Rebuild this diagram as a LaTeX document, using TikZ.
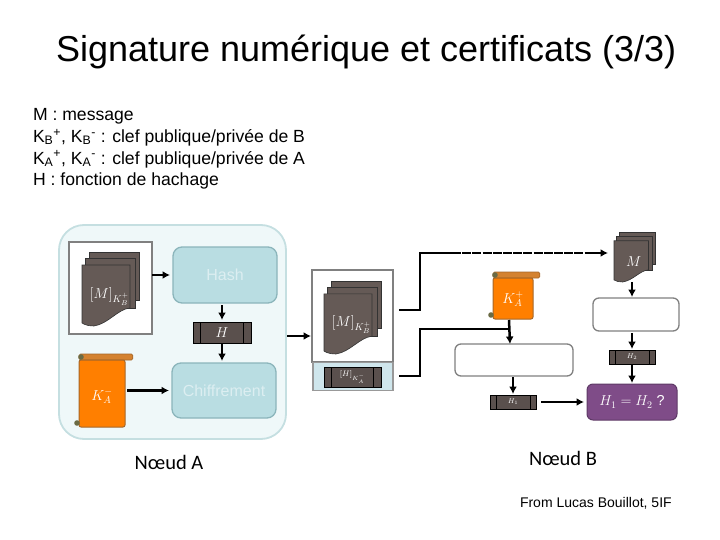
\documentclass[tikz,border=0pt]{standalone}
\usepackage{fontspec}
\setmainfont{Liberation Sans}
\newfontfamily\carl{Carlito}
\usetikzlibrary{arrows.meta,calc}
\definecolor{docfill}{HTML}{655A56}
\definecolor{barfill}{HTML}{5A504D}
\definecolor{panel}{HTML}{EFF8F9}
\definecolor{panelline}{HTML}{C5DFE1}
\definecolor{tealfill}{HTML}{B9DDE2}
\definecolor{tealline}{HTML}{8BB5BB}
\definecolor{graybox}{HTML}{808080}
\definecolor{orangefill}{HTML}{FF7F00}
\definecolor{orangeline}{HTML}{A5672A}
\definecolor{rollfill}{HTML}{D48230}
\definecolor{knob}{HTML}{6B6B45}
\definecolor{purplefill}{HTML}{7F4C88}
\definecolor{purpleline}{HTML}{5E3A66}
\definecolor{lightblue}{HTML}{CFE6EC}
\definecolor{pale}{HTML}{DCEEF1}
\tikzset{
  x=1pt,y=-1pt,
  every node/.style={inner sep=0pt,outer sep=0pt},
  conn/.style={line width=2.5pt,draw=black},
  arrowconn/.style={conn,-{Latex[length=7.5pt,width=8pt]}},
  tealbox/.style={draw=tealline,fill=tealfill,line width=1.3pt,rounded corners=9pt,text=pale,font=\fontsize{16}{16}\selectfont},
  whitebox/.style={draw=graybox,fill=white,line width=1.3pt,rounded corners=6pt},
  framebox/.style={draw=graybox,fill=white,line width=2.7pt},
  barshape/.style={draw=black,fill=barfill,line width=.8pt,text=white},
  ghost/.style={draw=none,fill=none,text=white},
  docpage/.style={draw=black!80,fill=docfill,line width=.6pt},
  biglabel/.style={font=\Large},
}
% corners: x0 y0 x1 y1 of the stack, node name, label
\newcommand{\docstack}[6]{%
  \begin{scope}[shift={(#1,#2)},x={(#3*1pt/57,0)},y={(0,-#4*1pt/74)}]
    \draw[docpage] (7,0) rectangle (57,48);
    \draw[docpage] (3.5,6) rectangle (53,56);
    \draw[docpage] (0,13) -- (48,13) -- (48,56) .. controls (36,57) and (26,72) .. (12,74)
      .. controls (7,74) and (3,73) .. (0,71) -- cycle;
  \end{scope}
  \node[ghost,minimum width=#3pt,minimum height=#4pt] (#5) at ($(#1,#2)+(#3/2,#4/2)$) {};
  \node[text=white,biglabel] (#5text) at ($(#1,#2)+(#3*.48,#4*.6)$) {#6};}
% x0 y0 width height (body), node, label
\newcommand{\scrollshape}[6]{%
  \draw[fill=rollfill,draw=orangeline,line width=.7pt,rounded corners=1.5pt] (#1,#2) rectangle (#1+#3+#3*.17,#2+6);
  \draw[fill=orangefill,draw=orangeline,line width=1pt,rounded corners=2pt] (#1,#2+6) rectangle (#1+#3,#2+#4);
  \fill[knob] (#1+2,#2+3) circle (2.8pt);
  \fill[knob] (#1-2,#2+#4-4) circle (2.8pt);
  \node[ghost,minimum width=#3pt,minimum height=#4pt] (#5) at ($(#1,#2)+(#3/2,#4/2)$) {};
  \node[text=white,biglabel] (#5text) at ($(#1,#2)+(#3/2,#4*.58)$) {#6};}
% x0 y0 x1 y1 node label
\newcommand{\hashbar}[6]{%
  \node[barshape,minimum width=#3pt-#1pt,minimum height=#4pt-#2pt] (#5) at ($(#1,#2)!.5!(#3,#4)$) {#6};
  \draw[black,line width=.8pt] ($(#1,#2)+(.13*#3-.13*#1,0)$) -- ($(#1,#4)+(.13*#3-.13*#1,0)$);
  \draw[black,line width=.8pt] ($(#3,#2)-(.13*#3-.13*#1,0)$) -- ($(#3,#4)-(.13*#3-.13*#1,0)$);}
\begin{document}
\begin{tikzpicture}
\useasboundingbox (0,0) rectangle (720,540);
\node[anchor=west,font=\fontsize{36}{36}\selectfont] (title) at (56,52) {Signature numérique et certificats (3/3)};
\node[anchor=north west,font=\fontsize{17.6}{21.7}\selectfont,align=left] (legend) at (33,108.5) {%
M : message\\
K\textsubscript{B}\textsuperscript{+}, K\textsubscript{B}\textsuperscript{-} : clef publique/privée de B\\
K\textsubscript{A}\textsuperscript{+}, K\textsubscript{A}\textsuperscript{-} : clef publique/privée de A\\
H : fonction de hachage};

% Node A panel
\node[draw=panelline,fill=panel,line width=1.8pt,rounded corners=25pt,minimum width=227pt,minimum height=214pt] (panelA) at (172.5,332) {};
\node[framebox,minimum width=83pt,minimum height=92pt] (frameA) at (110.5,288) {};
\docstack{82}{252}{57}{74}{docA}{$[M]_{K_B^+}$}
\node[tealbox,minimum width=104pt,minimum height=56pt] (hash) at (225,275) {Hash};
\hashbar{193}{322}{251}{343}{barH}{\Large$H$}
\node[tealbox,minimum width=104pt,minimum height=55pt] (chiff) at (224,390.5) {Chiffrement};
\scrollshape{79}{354}{46}{73}{scrollA}{$K_A^-$}
\node[font=\carl\fontsize{20.5}{20.5}\selectfont] (nodeA) at (169,462) {Nœud A};

% Middle
\node[framebox,minimum width=81pt,minimum height=92pt] (frameM) at (352.5,316) {};
\docstack{324}{281}{57}{73}{docM}{$[M]_{K_B^+}$}
\node[draw=graybox!80,fill=lightblue,line width=1.6pt,minimum width=80pt,minimum height=28pt] (sigbox) at (353,376.5) {};
\hashbar{324}{367}{381}{387}{barS}{\footnotesize$[H]_{K_A^-}$}

% Node B
\docstack{614}{232}{41}{50}{docB}{$M$}
\scrollshape{493}{272}{40}{47}{scrollB}{$K_A^+$}
\node[whitebox,minimum width=86pt,minimum height=33pt] (hashB) at (636,314.5) {};
\node[whitebox,minimum width=118pt,minimum height=32pt] (decB) at (514,360) {};
\hashbar{609}{350}{655}{364}{barH2}{\scriptsize$H_2$}
\hashbar{490}{395}{536}{409}{barH1}{\scriptsize$H_1$}
\node[draw=purpleline,fill=purplefill,line width=1pt,rounded corners=6pt,minimum width=90pt,minimum height=36pt,text=white,biglabel] (cmp) at (632,402) {$H_1=H_2$ ?};
\node[font=\carl\fontsize{20.5}{20.5}\selectfont] (nodeB) at (563,458) {Nœud B};
\node[anchor=west,font=\fontsize{14}{14}\selectfont] (credit) at (520,503) {From Lucas Bouillot, 5IF};

% Connector waypoints
\coordinate (outA) at (287,336);
\coordinate (upS) at (399,310);
\coordinate (upK) at (420,253);
\coordinate (dashS) at (452,253);
\coordinate (dashE) at (585,253);
\coordinate (lowS) at (399,376);
\coordinate (lowK) at (420,329);
\coordinate (scrollOut) at ($(scrollB.south)+(-4,1)$);
\coordinate (decIn) at ($(decB.north)+(-4,0)$);

% Connectors
\draw[arrowconn,shorten >=3pt] (frameA.east |- hash.west) -- (hash.west);
\draw[arrowconn,shorten <=2pt,shorten >=2pt] (barH.north |- hash.south) -- (barH.north);
\draw[arrowconn,shorten <=1pt,shorten >=2pt] (barH.south) -- (barH.south |- chiff.north);
\draw[arrowconn,shorten <=2pt,shorten >=3pt] (scrollA.east |- chiff.west) -- (chiff.west);
\draw[arrowconn,shorten >=1pt] (outA) -- (frameM.west |- outA);
\draw[conn] (upS) -| (upK) -- (dashS);
\draw[conn,dash pattern=on 9pt off 1.2pt] (dashS) -- (dashE);
\draw[arrowconn,shorten >=6pt] (dashE) -- (docB.west |- dashE);
\draw[conn] (lowS) -| (lowK) -- (scrollOut |- lowK);
\draw[arrowconn] (scrollOut) -- (decIn);
\draw[arrowconn,shorten <=1pt,shorten >=1pt] (barH1.north |- decB.south) -- (barH1.north);
\draw[arrowconn,shorten <=5pt,shorten >=3pt] (barH1.east) -- (cmp.west |- barH1.east);
\draw[arrowconn,shorten >=1pt] (docB.south -| barH2.north) -- (barH2.north |- hashB.north);
\draw[arrowconn,shorten <=2pt,shorten >=1pt] (barH2.north |- hashB.south) -- (barH2.north);
\draw[arrowconn,shorten <=1pt,shorten >=1pt] (barH2.south) -- (barH2.south |- cmp.north);
\end{tikzpicture}
\end{document}
